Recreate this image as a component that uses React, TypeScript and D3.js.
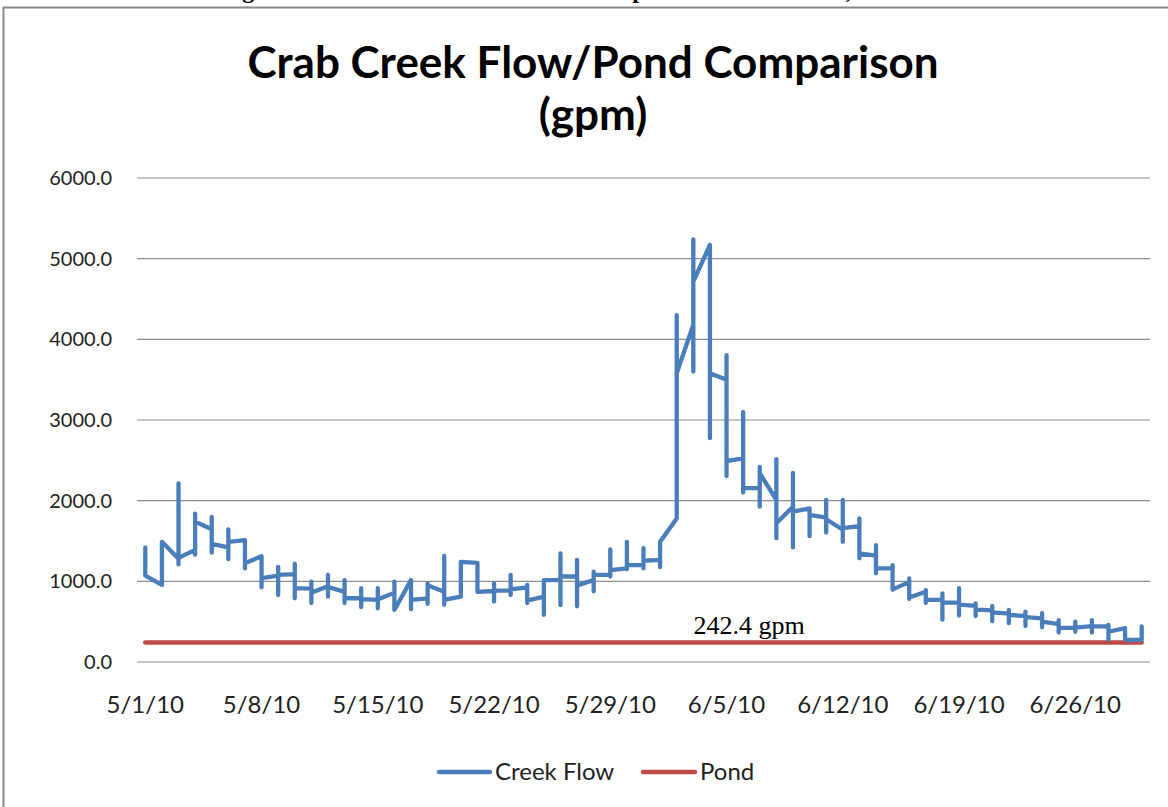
import React from 'react';
import * as d3 from 'd3';

const width = 1168, height = 807;
// plot area edges (in page pixels)
const plot = { left: 137, right: 1150, top: 178, bottom: 662 };

// one entry per day on the category (date) axis
const dates = [
  '5/1/10', '5/2/10', '5/3/10', '5/4/10', '5/5/10', '5/6/10', '5/7/10', '5/8/10', '5/9/10', '5/10/10',
  '5/11/10', '5/12/10', '5/13/10', '5/14/10', '5/15/10', '5/16/10', '5/17/10', '5/18/10', '5/19/10', '5/20/10',
  '5/21/10', '5/22/10', '5/23/10', '5/24/10', '5/25/10', '5/26/10', '5/27/10', '5/28/10', '5/29/10', '5/30/10',
  '5/31/10', '6/1/10', '6/2/10', '6/3/10', '6/4/10', '6/5/10', '6/6/10', '6/7/10', '6/8/10', '6/9/10',
  '6/10/10', '6/11/10', '6/12/10', '6/13/10', '6/14/10', '6/15/10', '6/16/10', '6/17/10', '6/18/10', '6/19/10',
  '6/20/10', '6/21/10', '6/22/10', '6/23/10', '6/24/10', '6/25/10', '6/26/10', '6/27/10', '6/28/10', '6/29/10',
  '6/30/10'
];

// creek flow readings (gpm), several readings logged on the same day
const flowReadings = [
  [1420, 1070], [955, 1490], [1280, 2215, 1210, 1290], [1390, 1330, 1840, 1740], [1645, 1800, 1355, 1465],
  [1420, 1645, 1275, 1490], [1510, 1160, 1225], [1310, 925, 1040], [1070, 1180, 830, 1080], [1090, 1220, 790, 915],
  [910, 995, 730, 860], [940, 1080, 810, 930], [870, 1015, 730, 790], [790, 915, 680, 780], [770, 915, 665, 775],
  [860, 995, 645], [1015, 655, 770], [790, 720, 975, 950], [870, 1315, 710, 770], [810, 1240],
  [1230, 870], [880, 975, 750, 885], [885, 1080, 830, 900], [925, 955, 730, 760], [810, 585, 1015],
  [1015, 1345, 705, 1060], [1060, 1265, 690, 950], [1015, 1120, 875, 1080], [1080, 1395, 1060, 1140], [1160, 1490, 1150, 1200],
  [1200, 1410, 1160, 1255], [1265, 1175, 1490], [1780, 4300, 3580], [4180, 3600, 5240, 4715], [5170, 2775, 3580],
  [3500, 3805, 2305, 2490], [2525, 3100, 2100, 2155], [2155, 1925, 2420, 2340], [2010, 2515, 1535, 1720], [1925, 2345, 1420, 1865],
  [1905, 1560, 1825], [1790, 2010, 1605, 1770], [1640, 2010, 1490, 1660], [1685, 1780, 1285, 1345], [1320, 1450, 1100, 1160],
  [1160, 1200, 895, 900], [990, 1035, 780, 800], [870, 890, 730, 770], [770, 850, 525, 740], [735, 915, 575, 710],
  [695, 725, 570, 650], [640, 695, 505, 615], [600, 645, 480, 585], [570, 625, 445, 555], [540, 605, 430, 500],
  [470, 520, 365, 420], [425, 500, 375, 425], [445, 520, 365, 445], [440, 460, 275, 375], [420, 275],
  [275, 440]
];

const pondFlow = 242.4;
const yTicks = [0, 1000, 2000, 3000, 4000, 5000, 6000];
const xTickLabels = ['5/1/10', '5/8/10', '5/15/10', '5/22/10', '5/29/10', '6/5/10', '6/12/10', '6/19/10', '6/26/10'];

const blue = '#4A7EBB';
const red = '#BE4B48';
const font = 'Lato, "Open Sans", sans-serif';

export default function App() {
  // date axis: each day gets a slot, points sit at slot centres
  const xBand = d3.scaleBand().domain(dates).range([plot.left, plot.right]);
  const x = (d: string) => (xBand(d) as number) + xBand.bandwidth() / 2;
  const y = d3.scaleLinear().domain([0, 6000]).range([plot.bottom, plot.top]);

  const points = flowReadings.flatMap((vals, i) => vals.map(v => ({ date: dates[i], v })));
  const line = d3.line<{ date: string; v: number }>().x(d => x(d.date)).y(d => y(d.v));
  const creekPath = line(points) || '';
  const pondPath = line([
    { date: dates[0], v: pondFlow },
    { date: dates[dates.length - 1], v: pondFlow }
  ]) || '';

  return (
    <div style={{ position: 'absolute', left: 0, top: 0 }}>
      <svg width={width} height={height} viewBox={`0 0 ${width} ${height}`} style={{ display: 'block' }}>
        <rect x={0} y={0} width={width} height={height} fill="#fff" />
        {/* caption of the page, mostly cut off above the chart */}
        <text x={221} y={-2} fontFamily='"Liberation Serif", serif' fontWeight="bold" fontSize={24}>
          Figure 4. Crab Creek Stream Flow Compared with Pond Use, 2010
        </text>
        <rect x={3.5} y={7.5} width={width + 10} height={height + 10} fill="none" stroke="#898989" strokeWidth={2} />

        <text x={593} y={78} textAnchor="middle" fontFamily={font} fontWeight="bold" fontSize={44}>
          Crab Creek Flow/Pond Comparison
        </text>
        <text x={593} y={130} textAnchor="middle" fontFamily={font} fontWeight="bold" fontSize={44}>
          (gpm)
        </text>

        {/* gridlines + y labels */}
        {yTicks.map(t => (
          <g key={t}>
            <line x1={plot.left} x2={plot.right} y1={y(t)} y2={y(t)} stroke="#8c8c8c" strokeWidth={1.2} />
            <text x={112} y={y(t)} dy="0.35em" textAnchor="end" fontFamily={font} fontSize={20} fill="#222">
              {d3.format('.1f')(t)}
            </text>
          </g>
        ))}

        {xTickLabels.map(d => (
          <text key={d} x={x(d)} y={713} textAnchor="middle" fontFamily={font} fontSize={24} fill="#222">
            {d}
          </text>
        ))}

        <path d={pondPath} fill="none" stroke={red} strokeWidth={4.5} strokeLinecap="round" />
        <path d={creekPath} fill="none" stroke={blue} strokeWidth={4.3} strokeLinejoin="round" strokeLinecap="round" />

        <text x={749} y={634} textAnchor="middle" fontFamily='"Liberation Serif", "Times New Roman", serif' fontSize={26}>
          {pondFlow} gpm
        </text>

        {/* legend */}
        <line x1={439} x2={490} y1={772} y2={772} stroke={blue} strokeWidth={4.5} strokeLinecap="round" />
        <text x={495} y={772} dy="0.35em" fontFamily={font} fontSize={24} fill="#222">Creek Flow</text>
        <line x1={643} x2={695} y1={772} y2={772} stroke={red} strokeWidth={4.5} strokeLinecap="round" />
        <text x={700} y={772} dy="0.35em" fontFamily={font} fontSize={24} fill="#222">Pond</text>
      </svg>
    </div>
  );
}
